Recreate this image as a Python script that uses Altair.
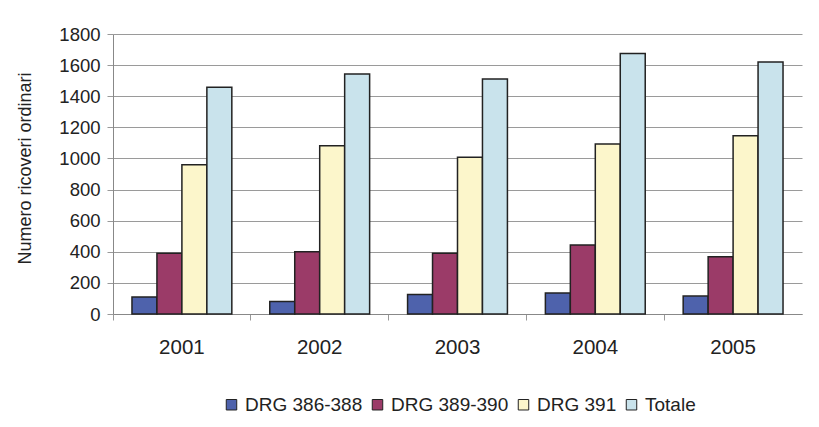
import altair as alt
import pandas as pd

years = ["2001", "2002", "2003", "2004", "2005"]
series = ["DRG 386-388", "DRG 389-390", "DRG 391", "Totale"]
drg_386_388 = [110, 80, 125, 135, 115]
drg_389_390 = [390, 400, 390, 443, 368]
drg_391 = [960, 1082, 1007, 1093, 1146]
totale = [1457, 1543, 1510, 1675, 1620]
colors = ["#4E62AC", "#9B3B68", "#FCF6CB", "#C9E3EC"]
y_ticks = [0, 200, 400, 600, 800, 1000, 1200, 1400, 1600, 1800]

rows = []
for name, vals in zip(series, [drg_386_388, drg_389_390, drg_391, totale]):
    for yr, v in zip(years, vals):
        rows.append({"Anno": yr, "Serie": name, "Valore": v})
df = pd.DataFrame(rows)

FONT = "Liberation Sans"

chart = alt.Chart(df).mark_bar(stroke="#222222", strokeWidth=1.5).encode(
    x=alt.X("Anno:N", sort=years,
            scale=alt.Scale(paddingInner=0, paddingOuter=0),
            axis=alt.Axis(title=None, labelAngle=0, bandPosition=0,
                          labelFontSize=20.5, labelFont=FONT, labelColor="#222",
                          labelPadding=17, tickSize=6, tickColor="#999",
                          domainColor="#888", grid=False)),
    xOffset=alt.XOffset("Serie:N", sort=series,
                        scale=alt.Scale(paddingOuter=0.76, paddingInner=0)),
    y=alt.Y("Valore:Q",
            scale=alt.Scale(domain=[0, 1800], nice=False),
            axis=alt.Axis(title="Numero ricoveri ordinari", values=y_ticks, format="d",
                          labelFontSize=18.5, labelFont=FONT, labelColor="#222",
                          labelPadding=7, tickSize=6, tickColor="#999",
                          domainColor="#888", gridColor="#9a9a9a",
                          titleFont=FONT, titleFontSize=18, titleFontWeight="normal",
                          titleColor="#222", titleX=-88, titleY=134,
                          titleAngle=-90, titleAlign="center", titleBaseline="middle")),
    color=alt.Color("Serie:N", sort=series,
                    scale=alt.Scale(domain=series, range=colors),
                    legend=alt.Legend(orient="none", legendX=109, legendY=361,
                                      direction="horizontal", title=None,
                                      symbolType="square", symbolSize=110,
                                      symbolStrokeColor="#222", symbolStrokeWidth=1,
                                      labelFont=FONT, labelFontSize=19, labelColor="#222",
                                      labelOffset=4, columnPadding=5)),
).properties(
    width=689,
    height=280,
    autosize=alt.AutoSizeParams(type="none"),
    padding={"left": 105, "top": 26, "right": 8, "bottom": 100},
).configure_view(stroke=None)

chart.save("out.html", embed_options={"renderer": "svg", "actions": False})
